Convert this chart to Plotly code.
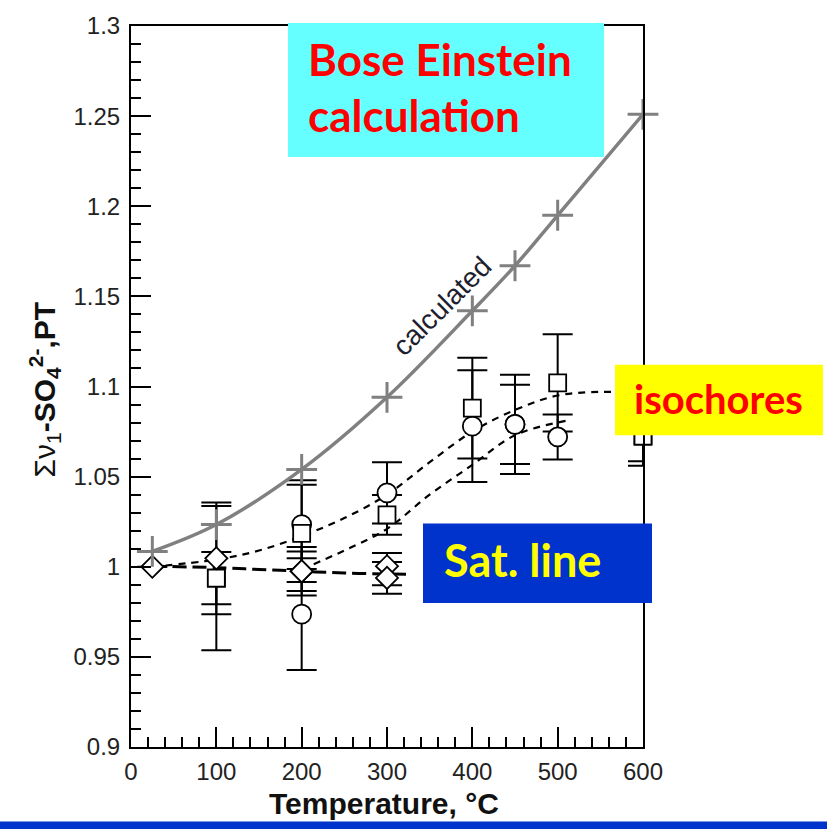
import plotly.graph_objects as go

# ---------------- data ----------------
x_tick_vals = [0, 100, 200, 300, 400, 500, 600]
x_tick_text = ["0", "100", "200", "300", "400", "500", "600"]
y_tick_vals = [0.9, 0.95, 1.0, 1.05, 1.1, 1.15, 1.2, 1.25, 1.3]
y_tick_text = ["0.9", "0.95", "1", "1.05", "1.1", "1.15", "1.2", "1.25", "1.3"]

# Bose-Einstein calculated curve
calc_T = [25, 100, 200, 300, 400, 450, 500, 600]
calc_v = [1.0085, 1.0234, 1.054, 1.094, 1.142, 1.167, 1.195, 1.251]

# fitted lines
sat_T = [25, 100, 150, 200, 250, 300, 325]
sat_v = [1.0003, 0.9995, 0.9985, 0.9975, 0.9965, 0.996, 0.9958]
iso_hi_T = [25, 100, 150, 200, 250, 300, 350, 400, 450, 500, 550, 600]
iso_hi_v = [1.000, 1.004, 1.009, 1.017, 1.027, 1.040, 1.058, 1.075, 1.087, 1.095, 1.097, 1.096]
iso_lo_T = [200, 250, 300, 350, 400, 450, 510]
iso_lo_v = [0.9986, 1.009, 1.021, 1.040, 1.0565, 1.073, 1.081]

# measured points with error bars
circ_A_T = [200, 300, 400, 450, 500]
circ_A_v = [1.0234, 1.041, 1.078, 1.079, 1.072]
circ_A_err = [0.0246, 0.017, 0.031, 0.0275, 0.0125]
circ_B_T = [200, 450]
circ_B_v = [0.9737, 1.079]
circ_B_err = [0.031, 0.022]

sq_A_T = [100, 200, 300, 400, 500, 600]
sq_A_v = [0.9937, 1.0185, 1.0288, 1.088, 1.102, 1.0725]
sq_A_err = [0.040, 0.027, 0.011, 0.028, 0.027, 0.014]
sq_B_T = [100, 600]
sq_B_v = [0.9937, 1.0725]
sq_B_err = [0.0145, 0.0165]

dia_A_T = [25, 100, 200, 300]
dia_A_v = [1.0, 1.0047, 0.9975, 1.0003]
dia_A_err_plus = [0.0, 0.031, 0.011, 0.0073]
dia_A_err_minus = [0.0, 0.031, 0.011, 0.0105]
dia_B_T = [200, 300]
dia_B_v = [0.9975, 0.9938]
dia_B_err = [0.0135, 0.0088]

# ---------------- figure ----------------
fig = go.Figure()

# fitted lines (bottom layer)
fig.add_trace(go.Scatter(x=sat_T, y=sat_v, mode="lines", line_shape="spline",
                         line=dict(color="black", width=3, dash="14px,6px")))
fig.add_trace(go.Scatter(x=iso_hi_T, y=iso_hi_v, mode="lines", line_shape="spline",
                         line=dict(color="black", width=2.2, dash="7px,6px")))
fig.add_trace(go.Scatter(x=iso_lo_T, y=iso_lo_v, mode="lines", line_shape="spline",
                         line=dict(color="black", width=2.2, dash="7px,6px")))

err_style = dict(color="black", thickness=2, width=15)

series = [
    (circ_A_T, circ_A_v, circ_A_err, circ_A_err, "circle", 19),
    (circ_B_T, circ_B_v, circ_B_err, circ_B_err, "circle", 19),
    (sq_A_T, sq_A_v, sq_A_err, sq_A_err, "square", 17),
    (sq_B_T, sq_B_v, sq_B_err, sq_B_err, "square", 17),
    (dia_A_T, dia_A_v, dia_A_err_plus, dia_A_err_minus, "diamond", 17),
    (dia_B_T, dia_B_v, dia_B_err, dia_B_err, "diamond", 17),
]

# error bars first
for T, v, ep, em, sym, sz in series:
    fig.add_trace(go.Scatter(
        x=T, y=v, mode="markers", cliponaxis=False,
        marker=dict(size=1, opacity=0),
        error_y=dict(type="data", symmetric=False, array=ep, arrayminus=em, **err_style)))

# markers on top
for T, v, ep, em, sym, sz in series:
    fig.add_trace(go.Scatter(
        x=T, y=v, mode="markers", cliponaxis=False,
        marker=dict(symbol=sym, size=sz, color="white",
                    line=dict(color="black", width=1.8))))

# calculated curve
fig.add_trace(go.Scatter(
    x=calc_T, y=calc_v, mode="lines+markers", line_shape="spline", cliponaxis=False,
    line=dict(color="#808080", width=3.5),
    marker=dict(symbol="cross-thin", size=22, line=dict(color="#808080", width=3))))

# plot area in pixels
L, R, T_, B = 131, 643, 21, 747
W, H = 827, 829


def px(xp):
    return (xp - L) / (R - L)


def py(yp):
    return (B - yp) / (B - T_)


shapes = [
    dict(type="rect", xref="paper", yref="paper", layer="above",
         x0=px(288), x1=px(604), y0=py(153), y1=py(18),
         fillcolor="#66FFFF", line=dict(width=0)),
    dict(type="rect", xref="paper", yref="paper", layer="above",
         x0=px(615), x1=px(823), y0=py(433), y1=py(362),
         fillcolor="#FFFF00", line=dict(width=0)),
    dict(type="rect", xref="paper", yref="paper", layer="above",
         x0=px(423), x1=px(652), y0=py(602), y1=py(522),
         fillcolor="#0033CC", line=dict(width=0)),
    dict(type="rect", xref="paper", yref="paper", layer="above",
         x0=px(-10), x1=px(840), y0=py(840), y1=py(822),
         fillcolor="#0033CC", line=dict(width=0)),
]

box_font = "Lato, 'Noto Sans', sans-serif"
annotations = [
    dict(text="<b>Bose Einstein</b>", xref="paper", yref="paper", x=px(306), y=py(54),
         xanchor="left", yanchor="middle", showarrow=False,
         font=dict(family=box_font, size=44, color="#FF0000")),
    dict(text="<b>calculation</b>", xref="paper", yref="paper", x=px(306), y=py(111),
         xanchor="left", yanchor="middle", showarrow=False,
         font=dict(family=box_font, size=44, color="#FF0000")),
    dict(text="<b>isochores</b>", xref="paper", yref="paper", x=px(632), y=py(397),
         xanchor="left", yanchor="middle", showarrow=False,
         font=dict(family=box_font, size=40, color="#FF0000")),
    dict(text="<b>Sat. line</b>", xref="paper", yref="paper", x=px(442), y=py(559),
         xanchor="left", yanchor="middle", showarrow=False,
         font=dict(family=box_font, size=45, color="#FFFF00")),
    dict(text="calculated", xref="x", yref="y", x=364, y=1.1445,
         textangle=-45, showarrow=False,
         font=dict(family="'Liberation Sans', Arial, sans-serif", size=28, color="#1e1e2e")),
    dict(text="<b>Temperature, °C</b>", xref="paper", yref="paper", x=px(384), y=py(804),
         xanchor="center", yanchor="middle", showarrow=False,
         font=dict(family="'Liberation Sans', Arial, sans-serif", size=30, color="#111111")),
    dict(text="Σν<sub>1</sub><b>-SO</b><sub><b>4</b></sub><sup><b>2-</b></sup><b>,PT</b>",
         xref="paper", yref="paper", x=px(45), y=py(387), textangle=-90,
         xanchor="center", yanchor="middle", showarrow=False,
         font=dict(family="'Liberation Sans', Arial, sans-serif", size=30, color="#111111")),
]

tick_font = dict(family="'Liberation Sans', Arial, sans-serif", size=24, color="#222222")

fig.update_layout(
    width=W, height=H,
    margin=dict(l=L, r=W - R, t=T_, b=H - B, pad=0),
    paper_bgcolor="white", plot_bgcolor="white",
    showlegend=False,
    shapes=shapes,
    annotations=annotations,
    xaxis=dict(range=[0, 600], showgrid=False, zeroline=False,
               showline=True, linecolor="black", linewidth=2, mirror=True,
               ticks="inside", ticklen=20, tickwidth=2, tickcolor="black",
               tickvals=x_tick_vals, ticktext=x_tick_text, tickfont=tick_font,
               ticklabelstandoff=2,
               minor=dict(ticks="inside", ticklen=10, tickwidth=2, tickcolor="black",
                          dtick=20, tick0=0, showgrid=False)),
    yaxis=dict(range=[0.9, 1.3], showgrid=False, zeroline=False,
               showline=True, linecolor="black", linewidth=2, mirror=True,
               ticks="inside", ticklen=20, tickwidth=2, tickcolor="black",
               tickvals=y_tick_vals, ticktext=y_tick_text, tickfont=tick_font,
               ticklabelstandoff=4,
               minor=dict(ticks="inside", ticklen=10, tickwidth=2, tickcolor="black",
                          dtick=0.01, tick0=0.9, showgrid=False)),
)

fig.write_html("out.html")
